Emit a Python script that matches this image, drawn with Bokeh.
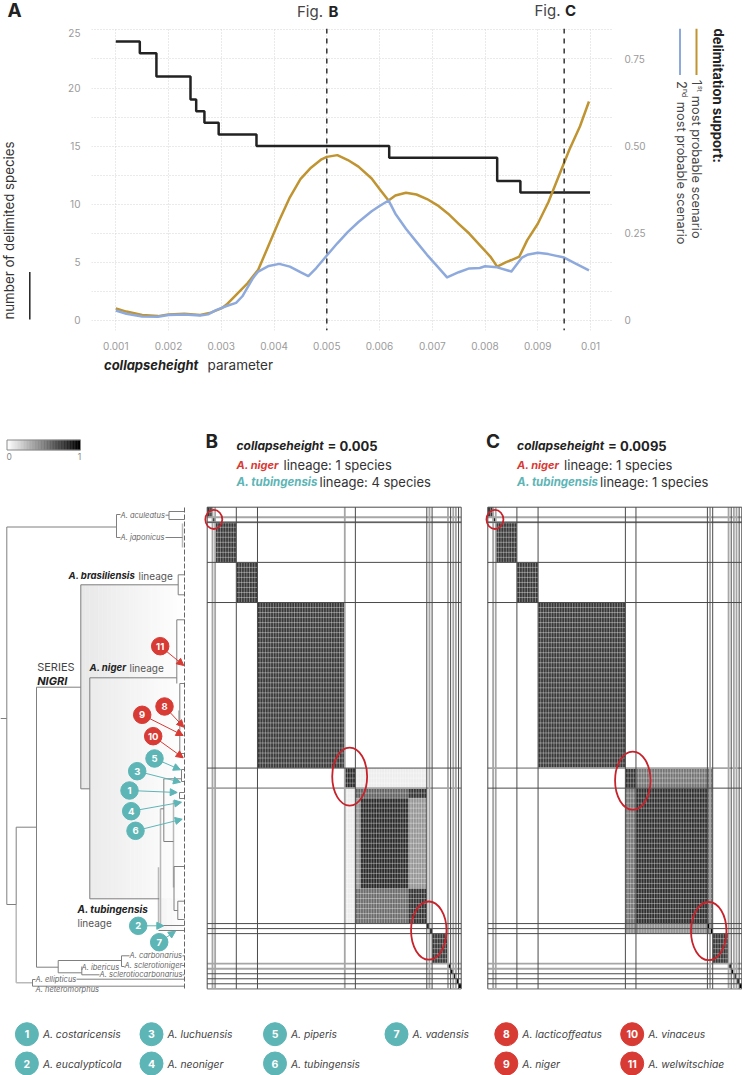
from bokeh.plotting import figure
from bokeh.layouts import column, row
from bokeh.models import Range1d, LinearAxis, FixedTicker, Label, Arrow, NormalHead
from bokeh.embed import file_html
from bokeh.resources import INLINE

FONT = "Inter"

# ---------- panel A data ----------
x_ticks = [0.001, 0.002, 0.003, 0.004, 0.005, 0.006, 0.007, 0.008, 0.009, 0.01]
x_tick_labels = ["0.001", "0.002", "0.003", "0.004", "0.005", "0.006", "0.007", "0.008", "0.009", "0.01"]
left_ticks = [0, 5, 10, 15, 20, 25]
right_ticks = [0, 0.25, 0.5, 0.75]
right_tick_labels = ["0", "0.25", "0.50", "0.75"]
species_x = [0.001, 0.001455, 0.00177, 0.002416, 0.002524, 0.00268, 0.00295, 0.003667, 0.006183, 0.00823, 0.00867, 0.00999]
species_y = [24, 23, 21, 19, 18, 17, 16, 15, 14, 12, 11, 11]
first_x = [0.001, 0.0012, 0.0015, 0.0018, 0.002, 0.0023, 0.0026, 0.0028, 0.003, 0.0031, 0.0033, 0.0035, 0.0037, 0.0039,
           0.0041, 0.0043, 0.0045, 0.0047, 0.0049, 0.005, 0.0052, 0.0054, 0.0056, 0.00585, 0.006, 0.00617, 0.0063, 0.0065,
           0.0067, 0.0069, 0.0071, 0.0073, 0.0075, 0.0077, 0.0079, 0.0081, 0.00823, 0.0084, 0.0085, 0.00865, 0.0088,
           0.009, 0.0092, 0.0094, 0.0096, 0.0098, 0.00997]
first_y = [0.034, 0.025, 0.015, 0.012, 0.017, 0.019, 0.015, 0.022, 0.034, 0.045, 0.076, 0.107, 0.145, 0.216,
           0.287, 0.353, 0.405, 0.438, 0.462, 0.469, 0.474, 0.460, 0.441, 0.407, 0.377, 0.344, 0.358, 0.366,
           0.361, 0.348, 0.330, 0.306, 0.277, 0.249, 0.216, 0.183, 0.154, 0.167, 0.173, 0.183, 0.230,
           0.277, 0.339, 0.415, 0.49, 0.557, 0.628]
second_x = [0.001, 0.0012, 0.0015, 0.0018, 0.002, 0.0023, 0.0026, 0.00275, 0.0029, 0.0031, 0.00328, 0.0034, 0.0036, 0.0037,
            0.0039, 0.0041, 0.0043, 0.0045, 0.00465, 0.0048, 0.005, 0.0052, 0.0054, 0.0056, 0.00585, 0.006, 0.00617,
            0.0063, 0.0065, 0.0067, 0.0069, 0.0071, 0.00728, 0.0075, 0.0077, 0.0079, 0.008, 0.00823, 0.0085, 0.0087,
            0.0088, 0.009, 0.0092, 0.0095, 0.0097, 0.00997]
second_y = [0.028, 0.019, 0.011, 0.010, 0.015, 0.017, 0.014, 0.017, 0.029, 0.041, 0.05, 0.069, 0.121, 0.14,
            0.156, 0.162, 0.154, 0.138, 0.127, 0.15, 0.186, 0.221, 0.254, 0.282, 0.313, 0.328, 0.344,
            0.306, 0.263, 0.225, 0.188, 0.154, 0.123, 0.138, 0.149, 0.15, 0.155, 0.152, 0.14, 0.18,
            0.188, 0.194, 0.19, 0.18, 0.164, 0.143]
fig_marks = [0.005, 0.0095]

# ---------- panels B, C data: cluster boundaries in matrix cells, blocks as (x0, x1, y0, y1, support) ----------
n_cells = 96
bounds_v_dark = [0, 11, 19, 56, 83, 85, 92, 95, 96]
bounds_v_grey = [2, 3, 52, 84, 91, 93, 94]
bounds_h_dark = [0, 3, 11, 19, 52, 83, 84, 85, 93, 94, 95]
bounds_h_grey = [2, 3, 56, 91, 92, 96]
bounds_c_v_dark = [0, 11, 19, 52, 56, 83, 85, 92, 95, 96]
bounds_c_v_grey = [2, 3, 84, 91, 93, 94]
bounds_c_h_dark = [0, 3, 11, 19, 56, 83, 84, 85, 93, 94, 95]
bounds_c_h_grey = [2, 3, 52, 91, 92, 96]
shared_blocks = [(0, 2, 0, 2, .78), (2, 3, 2, 3, 1), (3, 11, 3, 11, .78), (11, 19, 11, 19, .78), (19, 52, 19, 52, .78),
                 (85, 91, 85, 91, .78), (91, 92, 91, 92, 1), (92, 93, 92, 93, 1), (93, 94, 93, 94, 1),
                 (94, 95, 94, 95, 1), (95, 96, 95, 96, 1)]
blocks_b = [(52, 56, 52, 56, .84), (52, 56, 56, 83, .07), (56, 83, 52, 56, .07), (56, 83, 56, 83, .48),
            (56, 76, 56, 58, .62), (76, 83, 56, 58, .8), (76, 83, 58, 76, .42), (56, 58, 58, 76, .42),
            (56, 76, 76, 83, .58), (58, 76, 58, 76, .84), (76, 83, 76, 83, .8), (83, 84, 83, 84, 1), (84, 85, 84, 85, 1)]
blocks_c = [(52, 85, 52, 85, .55), (52, 56, 52, 56, .8), (56, 83, 56, 83, .82), (52, 83, 83, 85, .42),
            (83, 84, 83, 84, 1), (84, 85, 84, 85, 1)]
ellipses_b = [(2.5, 2.45, 6.4, 3.8), (53.85, 53.7, 13.2, 11.6), (83.75, 84.4, 13.4, 11.6)]
ellipses_c = [(2.7, 2.45, 6.4, 3.8), (54.8, 54.5, 13.4, 11.6), (83.5, 84.5, 13.4, 11.6)]

# ---------- tree data (depth, tip position) ----------
tree_segments = [
    (0, 718, 6.3, 718), (6.3, 526.5, 6.3, 904), (6.3, 526.5, 116, 526.5), (116, 514, 116, 537), (116, 514, 120, 514),
    (116, 537, 120, 537), (165, 514.7, 168.5, 514.7), (168.5, 511, 168.5, 519), (168.5, 511, 184, 511), (168.5, 519, 184, 519),
    (165, 537, 182, 537), (6.3, 904, 15.7, 904), (15.7, 826.7, 15.7, 904), (15.7, 826.7, 36, 826.7), (36, 686.7, 36, 966.7),
    (36, 686.7, 80.3, 686.7), (80.3, 584.3, 80.3, 788.3), (80.3, 584.3, 177.7, 584.3), (80.3, 788.3, 89.3, 788.3),
    (89.3, 677.3, 89.3, 898.3), (89.3, 677.3, 176.3, 677.3), (89.3, 898.3, 158.7, 898.3),
    (177.7, 574.3, 177.7, 594.3), (177.7, 574.3, 184, 574.3), (177.7, 594.3, 184, 594.3),
    (176.3, 619.3, 176.3, 677.3), (176.3, 619.3, 184, 619.3), (176.3, 677.3, 176.3, 683),
    (179.3, 683, 179.3, 753), (179.3, 683, 184, 683), (179.3, 753, 184, 753),
    (163.3, 778.3, 163.3, 841), (163.3, 778.3, 181, 778.3), (163.3, 841, 173, 841), (181, 769, 181, 781), (181, 769, 184, 769), (181, 781, 184, 781),
    (179, 792, 179, 798), (179, 792, 184, 792), (179, 798, 184, 798),
    (160, 808.3, 163.3, 808.3), (173.5, 866, 173.5, 910), (173.5, 866, 184, 866), (173.5, 910, 177.3, 910),
    (177.3, 900.7, 177.3, 919), (177.3, 900.7, 184, 900.7), (177.3, 919, 184, 919),
    (160, 925, 184, 925), (158, 930, 184, 930),
    (36, 966.7, 57.7, 966.7), (57.7, 960, 57.7, 972.3), (57.7, 960, 121, 960), (121, 955.3, 121, 966),
    (121, 955.3, 129, 955.3), (121, 966, 124, 966), (182, 955.3, 184, 955.3), (181, 965, 184, 965),
    (57.7, 972.3, 81.3, 972.3), (81.3, 966, 81.3, 974.3), (81.3, 974.3, 99, 974.3), (182, 974.3, 184, 974.3),
    (76, 978.7, 184, 978.7), (32, 985.7, 184, 985.7), (32, 979, 32, 985.7), (32, 979, 35, 979)]
tree_segments_light = [
    (15.7, 904, 15.7, 982.3), (15.7, 982.3, 32, 982.3), (182, 523, 182, 547), (160, 808.3, 160, 925), (158, 866.7, 158, 923),
    (173, 800, 173, 887), (178.3, 710, 178.3, 725)]

# ---------- arrows: number, circle x, circle y, tip x, tip y ----------
red_marks = [(11, 159.7, 645.7, 183.3, 665), (8, 164, 706, 183.3, 726.7), (9, 141.7, 714.3, 182.7, 735), (10, 152.7, 735.7, 182.7, 757.3)]
teal_marks = [(5, 154, 758, 180, 769.3), (3, 136.7, 770.7, 180, 781.7), (1, 129, 790, 176.7, 792), (4, 130.7, 810.7, 181, 801.7),
              (6, 135, 830.3, 181.7, 818.7), (2, 137.7, 925.3, 163.3, 925.3), (7, 158.7, 941.7, 175, 930.7)]

# ---------- key ----------
key_numbers = [1, 2, 3, 4, 5, 6, 7, 8, 9, 10, 11]
key_names = ["A. costaricensis", "A. eucalypticola", "A. luchuensis", "A. neoniger", "A. piperis", "A. tubingensis",
             "A. vadensis", "A. lacticoffeatus", "A. niger", "A. vinaceus", "A. welwitschiae"]
key_col = [0, 0, 1, 1, 2, 2, 3, 4, 4, 5, 5]
key_row = [0, 1, 0, 1, 0, 1, 0, 0, 1, 0, 1]
key_is_red = [False] * 7 + [True] * 4

RED = "#d83a34"
TEAL = "#5db5b6"
GOLD = "#bf9431"
BLUE = "#8eaadd"
INK = "#2b2b2b"


def lab(p, x, y, text, size, color=INK, style="normal", align="left", base="middle", angle=0):
    p.add_layout(Label(x=x, y=y, text=text, text_font=FONT, text_font_size=f"{size}px", text_color=color,
                       text_font_style=style, text_align=align, text_baseline=base, angle=angle))


def blank(width, height, xr, yr, bottom=0):
    p = figure(width=width, height=height, output_backend="svg", toolbar_location=None,
               x_range=Range1d(*xr), y_range=Range1d(*yr), min_border=0, min_border_bottom=bottom,
               outline_line_color=None, background_fill_color="white", border_fill_color="white")
    p.axis.visible = False
    p.grid.visible = False
    return p


# ================= A =================
PX_X0, PX_PER_X = 115.3, 52750.0
PX_Y0, PX_PER_Y = 322.7, 11.73
ax_x = lambda px: 0.001 + (px - PX_X0) / PX_PER_X
ax_y = lambda py: (PX_Y0 - py) / PX_PER_Y
FRAME_TOP, FRAME_BOTTOM = 28, 333
ROW_BOTTOM = 352
LEFT_W, RIGHT_X = 36, 660

a = figure(width=RIGHT_X - LEFT_W, height=ROW_BOTTOM - FRAME_TOP, output_backend="svg", toolbar_location=None,
           x_range=Range1d(ax_x(91), ax_x(613)), y_range=Range1d(ax_y(FRAME_BOTTOM), ax_y(FRAME_TOP)),
           min_border_left=91 - LEFT_W, min_border_right=RIGHT_X - 613, min_border_top=0,
           min_border_bottom=ROW_BOTTOM - FRAME_BOTTOM,
           outline_line_color=None, background_fill_color="white", border_fill_color="white")
a.xaxis.ticker = FixedTicker(ticks=x_ticks)
a.xaxis.major_label_overrides = dict(zip(x_ticks, x_tick_labels))
a.yaxis.ticker = FixedTicker(ticks=left_ticks)
a.extra_y_ranges = {"support": Range1d(ax_y(FRAME_BOTTOM) / 30, ax_y(FRAME_TOP) / 30)}
right_axis = LinearAxis(y_range_name="support", ticker=FixedTicker(ticks=right_ticks),
                        major_label_overrides=dict(zip(right_ticks, right_tick_labels)))
a.add_layout(right_axis, "right")
for axis in a.axis:
    axis.axis_line_color = None
    axis.major_tick_line_color = None
    axis.minor_tick_line_color = None
    axis.major_label_text_font = FONT
    axis.major_label_text_font_size = "10px"
    axis.major_label_text_color = "#9a9a9a"
a.xaxis.major_label_standoff = 5
a.yaxis.major_label_standoff = 5
a.xgrid.ticker = FixedTicker(ticks=x_ticks)
a.ygrid.ticker = FixedTicker(ticks=[0, 2.5, 5, 7.5, 10, 12.5, 15, 17.5, 20, 22.5, 25])
a.grid.grid_line_color = "#d4d4d4"
a.grid.grid_line_dash = "1 2"
a.grid.grid_line_width = 1
a.step(species_x, species_y, mode="after", line_color="#222222", line_width=2.5)
a.line(first_x, first_y, y_range_name="support", line_color=GOLD, line_width=2.5, line_join="round")
a.line(second_x, second_y, y_range_name="support", line_color=BLUE, line_width=2.5, line_join="round")
for m in fig_marks:
    a.line([m, m], [ax_y(FRAME_TOP), ax_y(FRAME_BOTTOM)], line_color="#333333", line_width=1.5, line_dash="5 5")

top_strip = blank(742, FRAME_TOP, (0, 742), (FRAME_TOP, 0))
lab(top_strip, 7, 9.5, "A", 19, "#222222", "bold")
lab(top_strip, 296.5, 10.5, "Fig.", 15, "#444444")
lab(top_strip, 328, 10.5, "B", 15, "#222222", "bold")
lab(top_strip, 534, 9.5, "Fig.", 15, "#444444")
lab(top_strip, 564.5, 9.5, "C", 15, "#222222", "bold")

left_strip = blank(LEFT_W, ROW_BOTTOM - FRAME_TOP, (0, LEFT_W), (FRAME_BOTTOM, FRAME_TOP), ROW_BOTTOM - FRAME_BOTTOM)
lab(left_strip, 8.5, 322, "number of delimited species", 13.3, "#333333", "normal", "left", "middle", 1.5708)
left_strip.line([29.3, 29.3], [274, 322], line_color="#222222", line_width=1.5)

right_strip = blank(742 - RIGHT_X, ROW_BOTTOM - FRAME_TOP, (RIGHT_X, 742), (FRAME_BOTTOM, FRAME_TOP), ROW_BOTTOM - FRAME_BOTTOM)
lab(right_strip, 718, 28, "delimitation support:", 13.2, "#222222", "bold", "left", "middle", -1.5708)
right_strip.line([696, 696], [28, 75], line_color=GOLD, line_width=2)
right_strip.line([679.5, 679.5], [28, 75], line_color=BLUE, line_width=2)
lab(right_strip, 696, 80, "1", 12.8, "#444444", "normal", "left", "middle", -1.5708)
lab(right_strip, 699.5, 86, "st", 7, "#444444", "normal", "left", "middle", -1.5708)
lab(right_strip, 696, 96, "most probable scenario", 12.8, "#444444", "normal", "left", "middle", -1.5708)
lab(right_strip, 681, 81, "2", 12.8, "#444444", "normal", "left", "middle", -1.5708)
lab(right_strip, 684.5, 89, "nd", 7, "#444444", "normal", "left", "middle", -1.5708)
lab(right_strip, 681, 102, "most probable scenario", 12.8, "#444444", "normal", "left", "middle", -1.5708)

TOP, BOTTOM = 425, 1010
bottom_strip = blank(742, TOP - ROW_BOTTOM, (0, 742), (TOP, ROW_BOTTOM))
lab(bottom_strip, 103.5, 364, "collapseheight", 13, "#222222", "bold italic")
lab(bottom_strip, 207, 364, "parameter", 13.5, "#333333")

# ================= tree =================
t = blank(203, BOTTOM - TOP, (0, 203), (BOTTOM, TOP))


def shaded(p, x0, x1, y0, y1, start, steps=24):
    edges = [x0 + (x1 - x0) * k / steps for k in range(steps + 1)]
    cols = []
    for k in range(steps):
        g = int(start + (255 - start) * k / (steps - 1))
        cols.append(f"#{g:02x}{g:02x}{g:02x}")
    p.quad(left=edges[:-1], right=edges[1:], top=y0, bottom=y1, fill_color=cols, line_color=cols, line_width=0.5)


shaded(t, 80.3, 186, 584.3, 788.3, 232)
shaded(t, 89.3, 186, 677.3, 898.3, 236)
shaded(t, 158.7, 186, 898.3, 930, 245)
t.segment(x0=[s[0] for s in tree_segments_light], y0=[s[1] for s in tree_segments_light],
          x1=[s[2] for s in tree_segments_light], y1=[s[3] for s in tree_segments_light], line_color="#b9b9b9", line_width=1.5)
t.segment(x0=[s[0] for s in tree_segments], y0=[s[1] for s in tree_segments],
          x1=[s[2] for s in tree_segments], y1=[s[3] for s in tree_segments], line_color="#7f7f7f", line_width=1)
t.line([184, 184], [507, 990], line_color="#666666", line_width=1, line_dash="5 2")

# colour bar
bar_edges = [6.5 + 73.5 * k / 48 for k in range(49)]
bar_cols = []
for k in range(48):
    g = int(255 * (1 - k / 47))
    bar_cols.append(f"#{g:02x}{g:02x}{g:02x}")
t.quad(left=bar_edges[:-1], right=bar_edges[1:], top=439.5, bottom=449.5, fill_color=bar_cols, line_color=bar_cols, line_width=0.5)
t.quad(left=[6.5], right=[80], top=[439.5], bottom=[449.5], fill_color=None, line_color="#8a8a8a", line_width=1)
lab(t, 8.7, 455.5, "0", 8.5, "#888888", "normal", "center")
lab(t, 79, 455.5, "1", 8.5, "#888888", "normal", "center")

for m, cx, cy, tx, ty in red_marks + teal_marks:
    col = RED if (m, cx, cy, tx, ty) in red_marks else TEAL
    t.add_layout(Arrow(end=NormalHead(size=7, fill_color=col, line_color=col), x_start=cx, y_start=cy, x_end=tx, y_end=ty,
                       line_color=col, line_width=1))
    t.scatter([cx], [cy], size=17.5, marker="circle", fill_color=col, line_color=col)
    lab(t, cx, cy, str(m), 9.5, "white", "bold", "center")

for x, y, name in [(120, 514.7, "A. aculeatus"), (120, 537, "A. japonicus"), (129, 955.3, "A. carbonarius"),
                   (124, 965, "A. sclerotioniger"), (81, 967, "A. ibericus"), (99, 974, "A. sclerotiocarbonarius"),
                   (35, 978.7, "A. ellipticus"), (35, 989.3, "A. heteromorphus")]:
    lab(t, x, y, name, 7.5, "#666666", "italic")
lab(t, 68, 575, "A. brasiliensis", 9.6, "#222222", "bold italic")
lab(t, 138, 575, "lineage", 10, "#555555")
lab(t, 36.7, 666.7, "SERIES", 11, "#444444")
lab(t, 36.7, 680, "NIGRI", 11, "#222222", "bold italic")
lab(t, 89, 667, "A. niger", 9.6, "#222222", "bold italic")
lab(t, 129, 667, "lineage", 10, "#555555")
lab(t, 77, 908.7, "A. tubingensis", 10, "#222222", "bold italic")
lab(t, 77, 922, "lineage", 10, "#555555")


# ================= B, C =================
def grey(v):
    g = int(round(255 * (1 - v)))
    return f"#{g:02x}{g:02x}{g:02x}"


def matrix(left, right, origin_px, blocks, v_dark, v_grey, h_dark, h_grey, rings, letter, height_txt, nig, tub):
    cw = 254 / n_cells
    ch = 481.6 / n_cells
    y_org = 506.7
    xr = ((left - origin_px) / cw, (right - origin_px) / cw)
    yr = ((BOTTOM - y_org) / ch, (TOP - y_org) / ch)
    p = blank(right - left, BOTTOM - TOP, xr, yr)
    all_blocks = shared_blocks[:5] + blocks + shared_blocks[5:]
    p.quad(left=[b[0] for b in all_blocks], right=[b[1] for b in all_blocks], top=[b[2] for b in all_blocks],
           bottom=[b[3] for b in all_blocks], fill_color=[grey(b[4]) for b in all_blocks], line_color=None)
    idx = list(range(1, n_cells))
    p.segment(x0=idx, x1=idx, y0=[0] * len(idx), y1=[n_cells] * len(idx), line_color="white", line_alpha=0.45, line_width=0.8)
    p.segment(x0=[0] * len(idx), x1=[n_cells] * len(idx), y0=idx, y1=idx, line_color="white", line_alpha=0.45, line_width=0.8)
    p.segment(x0=v_grey, x1=v_grey, y0=[0] * len(v_grey), y1=[n_cells] * len(v_grey), line_color="#a6a6a6", line_width=1.8)
    p.segment(x0=[0] * len(h_grey), x1=[n_cells] * len(h_grey), y0=h_grey, y1=h_grey, line_color="#a6a6a6", line_width=1.8)
    p.segment(x0=v_dark, x1=v_dark, y0=[0] * len(v_dark), y1=[n_cells] * len(v_dark), line_color="#4a4a4a", line_width=1)
    p.segment(x0=[0] * len(h_dark), x1=[n_cells] * len(h_dark), y0=h_dark, y1=h_dark, line_color="#4a4a4a", line_width=1)
    p.ellipse(x=[r[0] for r in rings], y=[r[1] for r in rings], width=[r[2] for r in rings], height=[r[3] for r in rings],
              fill_color=None, line_color="#c8222b", line_width=1.8)
    px = lambda v: (v - origin_px) / cw
    py = lambda v: (v - y_org) / ch
    d = origin_px - 206.7
    lab(p, px(205 + d), py(441), letter, 19, "#222222", "bold")
    lab(p, px(236 + d), py(445), "collapseheight", 12, "#222222", "bold italic")
    lab(p, px(327 + d), py(445), height_txt, 13, "#222222", "bold")
    lab(p, px(236 + d), py(464), "A. niger", 11, RED, "bold italic")
    lab(p, px(283 + d), py(464), nig, 13, "#333333")
    lab(p, px(236 + d), py(481), "A. tubingensis", 11.5, TEAL, "bold italic")
    lab(p, px(319 + d), py(481), tub, 13, "#333333")
    return p


b = matrix(203, 484, 206.7, blocks_b, bounds_v_dark, bounds_v_grey, bounds_h_dark, bounds_h_grey, ellipses_b, "B",
           "= 0.005", "lineage: 1 species", "lineage: 4 species")
c = matrix(484, 742, 487.3, blocks_c, bounds_c_v_dark, bounds_c_v_grey, bounds_c_h_dark, bounds_c_h_grey, ellipses_c, "C",
           "= 0.0095", "lineage: 1 species", "lineage: 1 species")

# ================= key =================
k = blank(742, 1075 - BOTTOM, (0, 742), (1075, BOTTOM))
col_px = [26.4, 151, 274.5, 396, 505.8, 631.7]
row_px = [1033.7, 1063]
text_gap = 16
for num, name, cc, rr, red in zip(key_numbers, key_names, key_col, key_row, key_is_red):
    colr = RED if red else TEAL
    k.scatter([col_px[cc]], [row_px[rr]], size=23, marker="circle", fill_color=colr, line_color=colr)
    lab(k, col_px[cc], row_px[rr], str(num), 10.5, "white", "bold", "center")
    lab(k, col_px[cc] + text_gap, row_px[rr], name, 10.3, "#444444", "italic")

root = column(top_strip, row(left_strip, a, right_strip, spacing=0), bottom_strip, row(t, b, c, spacing=0), row(k), spacing=0)
open("out.html", "w").write(file_html(root, INLINE))
